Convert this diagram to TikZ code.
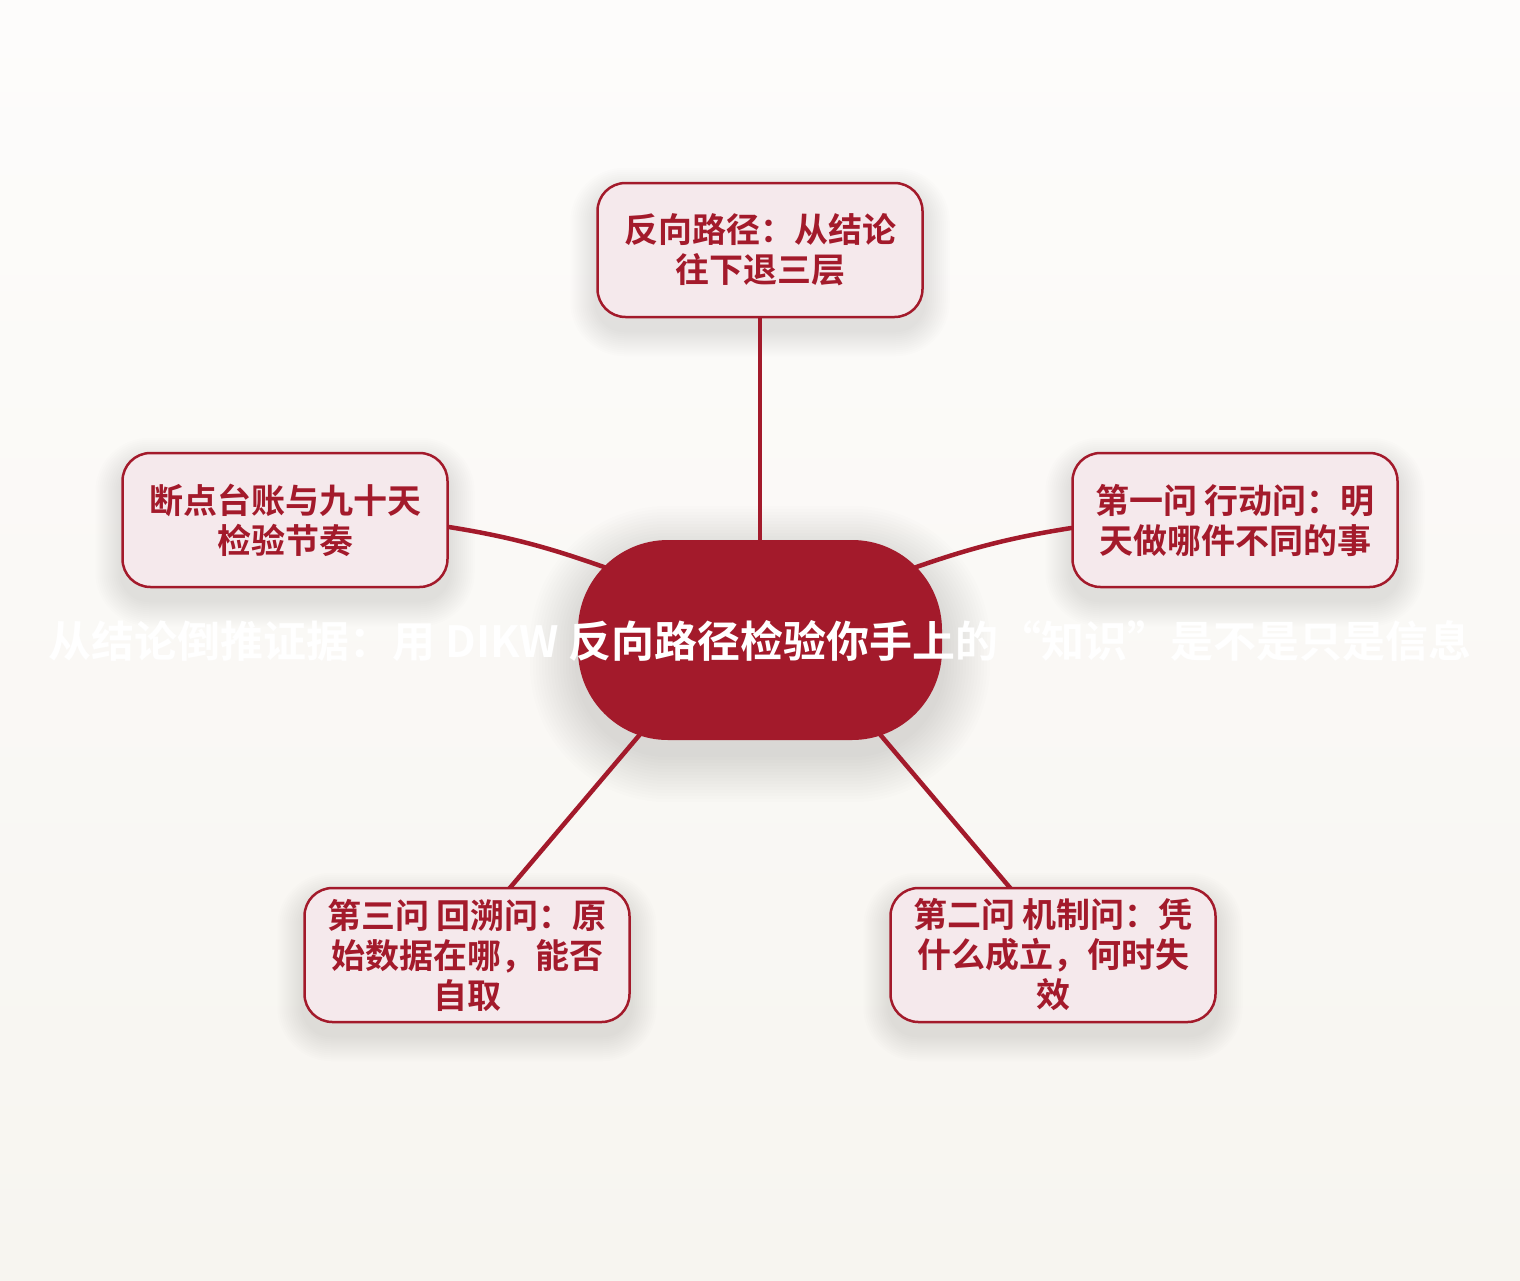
\documentclass[tikz,border=0pt]{standalone}
\usepackage{fontspec}
\setmainfont{Noto Sans CJK SC}[BoldFont={Noto Sans CJK SC Bold}]
\usepackage{tikz}
\usetikzlibrary{backgrounds}
\definecolor{crimson}{HTML}{A31A2B}
\definecolor{rosefill}{HTML}{F5E9EC}
\definecolor{papertop}{HTML}{FDFCFB}
\definecolor{paperbot}{HTML}{F7F5F0}
\tikzset{
  leaf/.style={draw=crimson, line width=2.5pt, fill=rosefill, rounded corners=28pt,
    minimum width=325pt, minimum height=134pt, inner sep=0pt, align=center,
    text=crimson, font=\fontsize{34}{40}\selectfont\bfseries},
  hub/.style={fill=crimson, rounded corners=90pt, minimum width=364pt, minimum height=200pt},
  branch/.style={draw=crimson, line width=4.5pt, line cap=round},
  haze/.style={fill=black, opacity=0.009},
}

\begin{document}
\begin{tikzpicture}[x=1pt,y=-1pt]

        %fond
        \useasboundingbox (0,0) rectangle (1520,1280);

        %noeuds
        \node[hub] (hub) at (760,640) {};
        \node[text=white, font=\fontsize{43}{48}\selectfont\bfseries] (title) at (760,641)
            {从结论倒推证据：用 DIKW 反向路径检验你手上的“知识”是不是只是信息};
        \node[leaf] (path) at (760,250) {反向路径：从结论\\往下退三层};
        \node[leaf] (ledger) at (285,520) {断点台账与九十天\\检验节奏};
        \node[leaf] (qone) at (1235,520) {第一问 行动问：明\\天做哪件不同的事};
        \node[leaf] (qtwo) at (1053,955) {第二问 机制问：凭\\什么成立，何时失\\效};
        \node[leaf] (qthree) at (467,955) {第三问 回溯问：原\\始数据在哪，能否\\自取};

        \begin{scope}[on background layer]
            \shade[top color=papertop, bottom color=paperbot] (0,0) rectangle (1520,1280);

            %ombres
            \foreach \n in {path,ledger,qone,qtwo,qthree}{
                \foreach \r in {2,4,...,26}{
                    \fill[haze, rounded corners={28+\r}]
                        ([xshift=-\r pt, yshift={\r-12}]\n.north west) rectangle
                        ([xshift=\r pt, yshift={-\r-12}]\n.south east);
                }
            }
            \foreach \r in {3,6,...,48}{
                \fill[haze, rounded corners={90+\r}]
                    ([xshift=-\r pt, yshift={\r-14}]hub.north west) rectangle
                    ([xshift=\r pt, yshift={-\r-14}]hub.south east);
            }

            %branches
            \draw[branch] (hub) -- (path);
            \draw[branch] ([yshift=-7pt]ledger.east) to[out=-9, in=160]
                ([xshift=-120pt, yshift=60pt]hub.center);
            \draw[branch] ([yshift=-8pt]qone.west) to[out=189, in=20]
                ([xshift=120pt, yshift=60pt]hub.center);
            \draw[branch] ([xshift=-40pt]hub.center) -- ([xshift=-14pt]qthree.center);
            \draw[branch] ([xshift=40pt]hub.center) -- ([xshift=14pt]qtwo.center);
        \end{scope}

    \end{tikzpicture}
\end{document}
